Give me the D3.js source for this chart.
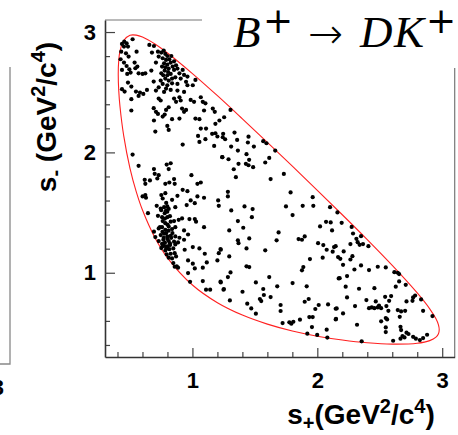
<!DOCTYPE html>
<html>
<head>
<meta charset="utf-8">
<script src="https://cdn.jsdelivr.net/npm/d3@7"></script>
<style>
html, body { margin: 0; padding: 0; background: #fff; }
svg { display: block; }
</style>
</head>
<body>
<svg id="chart" width="458" height="435"></svg>
<script>
// Kinematic boundary of the D -> K_S pi+ pi- Dalitz plot, s+ / s- in GeV^2/c^4
const boundarySPlus = [0.406, 0.41, 0.42, 0.45, 0.5, 0.55, 0.6, 0.7, 0.8, 1.0, 1.2, 1.4, 1.6, 1.8, 2.0, 2.2, 2.4, 2.6, 2.8, 2.9, 2.95, 2.97, 2.976,
                       2.97, 2.95, 2.9, 2.8, 2.6, 2.4, 2.2, 2.0, 1.8, 1.6, 1.4, 1.2, 1.0, 0.8, 0.7, 0.6, 0.55, 0.5, 0.45, 0.42, 0.41];
const boundarySMinus = [2.650, 2.763, 2.841, 2.930, 2.973, 2.974, 2.958, 2.900, 2.826, 2.655, 2.471, 2.279, 2.084, 1.886, 1.685, 1.482, 1.275, 1.061, 0.832, 0.700, 0.617, 0.567, 0.526,
                        0.493, 0.465, 0.436, 0.414, 0.407, 0.418, 0.441, 0.473, 0.516, 0.573, 0.648, 0.751, 0.898, 1.124, 1.291, 1.521, 1.674, 1.868, 2.137, 2.381, 2.515];

// Selected B+ -> D K+ candidates, each [s+, s-]
const events = [
  [0.436,2.901],[0.454,2.920],[0.473,2.906],[0.452,2.879],[0.484,2.879],[0.430,2.837],[0.468,2.823],[0.521,2.940],[0.553,2.837],[0.489,2.796],
  [0.425,2.774],[0.452,2.746],[0.473,2.718],[0.495,2.691],[0.505,2.663],[0.537,2.746],[0.543,2.699],[0.569,2.657],[0.559,2.713],[0.601,2.652],
  [0.623,2.657],[0.478,2.652],[0.436,2.685],[0.484,2.580],[0.436,2.525],[0.457,2.505],[0.511,2.547],[0.548,2.505],[0.580,2.497],[0.607,2.486],
  [0.569,2.469],[0.511,2.442],[0.511,2.348],[0.655,2.893],[0.692,2.884],[0.676,2.829],[0.724,2.837],[0.708,2.746],[0.671,2.680],[0.690,2.588],
  [0.708,2.514],[0.730,2.541],[0.730,2.447],[0.746,2.431],[0.690,2.367],[0.708,2.337],[0.724,2.320],[0.692,2.265],[0.762,2.298],[0.778,2.314],
  [0.789,2.353],[0.810,2.375],[0.799,2.220],[0.810,2.187],[0.703,2.173],[0.837,2.276],[0.751,2.829],[0.770,2.846],[0.783,2.818],[0.799,2.801],
  [0.815,2.774],[0.789,2.768],[0.762,2.782],[0.773,2.740],[0.799,2.729],[0.826,2.746],[0.842,2.713],[0.810,2.696],[0.783,2.707],[0.757,2.713],
  [0.778,2.680],[0.805,2.668],[0.826,2.652],[0.853,2.685],[0.869,2.724],[0.853,2.757],[0.880,2.696],[0.896,2.657],[0.799,2.641],[0.767,2.641],
  [0.783,2.613],[0.810,2.597],[0.837,2.613],[0.751,2.657],[0.746,2.597],[0.762,2.569],[0.799,2.558],[0.837,2.574],[0.863,2.624],[0.906,2.613],
  [0.880,2.569],[0.922,2.685],[0.933,2.644],[0.960,2.630],[0.949,2.586],[0.789,2.530],[0.773,2.502],[0.826,2.519],[0.730,2.796],[0.831,2.801],
  [0.853,2.447],[0.869,2.420],[0.896,2.458],[0.906,2.431],[0.933,2.502],[0.917,2.364],[0.933,2.337],[0.896,2.281],[0.960,2.558],[0.986,2.436],
  [1.013,2.420],[1.003,2.558],[1.024,2.602],[1.067,2.458],[1.083,2.420],[1.104,2.408],[1.093,2.348],[1.056,2.276],[1.109,2.198],[1.163,2.364],
  [1.179,2.337],[1.216,2.265],[1.254,2.292],[1.184,2.237],[1.184,2.159],[1.067,2.198],[1.024,2.281],[0.949,2.353],[0.880,2.514],[0.636,2.519],
  [1.305,2.353],[1.246,2.154],[1.262,2.109],[1.337,2.165],[1.358,2.104],[1.449,2.131],[1.444,2.082],[1.310,2.048],[1.364,2.015],[1.492,2.048],
  [1.567,2.093],[1.593,2.076],[1.663,2.015],[1.240,1.960],[1.289,1.943],[1.433,1.985],[1.454,1.938],[1.428,1.905],[1.449,1.893],[1.486,1.877],
  [1.331,1.860],[1.369,1.905],[1.615,1.954],[1.583,1.916],[1.732,1.821],
  [1.045,2.137],[1.104,2.110],[1.158,2.154],[1.200,2.132],[1.243,2.126],[1.056,2.087],[1.174,2.054],[1.238,1.960],[0.922,2.065],[0.521,1.982],
  [0.569,1.888],[0.794,1.899],[0.826,1.910],[0.810,1.861],[0.692,1.861],[0.698,1.822],[0.730,1.811],[0.719,1.783],[0.618,1.772],[0.660,1.767],
  [0.623,1.739],[0.783,1.739],[0.815,1.750],[0.853,1.778],[0.858,1.739],[0.992,1.811],[1.040,1.739],[1.067,1.750],[0.922,1.689],[0.960,1.678],
  [0.601,1.634],[0.623,1.645],[0.628,1.623],[0.751,1.645],[0.783,1.661],[0.762,1.617],[0.837,1.606],[0.880,1.639],[1.040,1.634],[1.093,1.623],
  [0.986,1.601],[1.206,1.601],[1.211,1.556],[0.644,1.495],[0.714,1.556],[0.746,1.534],[0.773,1.545],[0.799,1.551],[0.789,1.518],[0.778,1.495],
  [0.799,1.507],[0.863,1.545],[0.954,1.562],[1.019,1.578],[0.724,1.473],[0.757,1.462],[0.799,1.462],[0.762,1.429],[0.783,1.412],[0.826,1.424],
  [0.853,1.429],[0.890,1.440],[0.917,1.451],[0.976,1.446],[1.019,1.446],[1.029,1.424],[1.093,1.379],[0.692,1.341],[0.730,1.368],[0.757,1.379],
  [0.783,1.357],[0.810,1.385],[0.837,1.363],[0.863,1.379],[0.933,1.352],[0.965,1.318],[0.703,1.296],[0.746,1.313],[0.773,1.324],[0.799,1.302],
  [0.826,1.307],[0.863,1.302],[0.896,1.291],[0.933,1.274],[0.767,1.274],[0.810,1.263],[0.730,1.263],[0.853,1.258],[0.885,1.252],[0.757,1.241],
  [0.773,1.224],[0.799,1.219],[0.821,1.230],[0.863,1.235],[0.751,1.205],[0.783,1.185],[0.815,1.196],[0.847,1.202],[0.794,1.152],[0.826,1.158],
  [0.858,1.163],[0.810,1.125],[0.837,1.119],[0.869,1.136],[0.847,1.080],[0.874,1.053],[0.858,1.050],[0.885,1.042],[0.938,1.191],[1.003,1.213],
  [1.056,1.202],[1.099,1.158],[1.227,1.191],[1.211,1.163],[0.965,1.102],[1.003,1.075],[1.019,1.036],[1.115,1.086],[1.200,1.102],[1.083,1.042],
  [0.965,0.997],[0.981,0.925],[1.083,0.931],[1.227,0.920],[1.109,0.859],[1.142,0.859],[1.249,0.859],
  [0.760,1.340],[0.790,1.330],[0.810,1.350],[0.770,1.290],[0.800,1.280],[0.830,1.290],[0.780,1.250],[0.820,1.245],[0.740,1.380],[0.800,1.400],
  [0.780,1.450],[0.820,1.470],[0.750,1.520],[0.810,1.530],[0.790,1.580],[0.840,1.330],[0.760,1.220],[0.790,1.200],
  [1.348,1.794],[1.626,1.778],[1.284,1.672],[1.284,1.634],[1.786,1.667],[1.963,1.628],[1.749,1.551],[1.883,1.556],[1.968,1.556],[2.102,1.545],
  [2.161,1.501],[1.802,1.479],[1.417,1.551],[1.482,1.529],[1.476,1.462],[1.311,1.518],[1.364,1.429],[1.407,1.374],[1.295,1.352],[2.070,1.423],
  [2.107,1.418],[2.022,1.385],[2.118,1.352],[1.690,1.335],[1.674,1.269],[1.850,1.280],[1.877,1.274],[1.899,1.302],[2.006,1.246],[2.048,1.230],
  [2.075,1.191],[2.134,1.213],[2.123,1.175],[2.166,1.130],[2.043,1.125],[1.941,1.114],[1.364,1.269],[1.369,1.246],[1.455,1.285],[1.433,1.202],
  [1.225,1.197],[1.583,1.186],[1.295,1.136],[1.888,1.047],[1.877,1.020],[1.433,1.053],[1.455,1.047],[1.305,1.003],[1.284,0.964],[1.225,0.926],
  [1.508,0.920],[1.615,0.964],[1.802,0.914],[2.171,0.953],
  [1.252,0.865],[1.915,0.887],[1.401,0.842],[1.567,0.865],[1.572,0.815],[1.626,0.798],[1.679,0.887],[1.540,0.782],[1.551,0.765],[1.300,0.770],
  [1.439,0.743],[1.471,0.704],[1.508,0.660],[1.706,0.732],[1.706,0.682],[1.899,0.759],[1.931,0.782],[2.011,0.732],[1.984,0.699],[2.086,0.737],
  [2.155,0.704],[1.722,0.582],[1.776,0.588],[1.792,0.577],[1.808,0.593],[1.861,0.610],[1.936,0.632],[1.963,0.632],[2.150,0.616],[1.957,0.549],
  [2.075,0.527],[1.920,0.494],[1.999,0.483],[2.080,0.461],
  [2.195,1.415],[2.275,1.381],[2.286,1.326],[2.313,1.282],[2.323,1.254],[2.350,1.304],[2.339,1.232],[2.366,1.238],[2.409,1.221],[2.265,1.238],
  [2.147,1.221],[2.211,1.177],[2.184,1.116],[2.206,1.066],[2.281,1.138],[2.265,1.110],[2.350,1.061],[2.297,1.027],[2.414,1.022],[2.484,1.050],
  [2.548,1.044],[2.617,1.005],[2.644,1.000],[2.655,0.989],[2.179,0.955],[2.238,0.972],[2.655,0.928],[2.708,0.900],[2.628,0.884],[2.227,0.884],
  [2.334,0.867],[2.457,0.872],
  [2.238,0.795],[2.393,0.773],[2.468,0.762],[2.543,0.800],[2.591,0.806],[2.575,0.767],[2.767,0.795],[2.783,0.811],[2.714,0.762],[2.762,0.767],
  [2.831,0.778],[2.147,0.701],[2.206,0.662],[2.302,0.723],[2.414,0.706],[2.436,0.712],[2.457,0.706],[2.484,0.712],[2.494,0.728],[2.511,0.706],
  [2.553,0.723],[2.569,0.684],[2.644,0.690],[2.671,0.679],[2.660,0.634],[2.703,0.684],[2.847,0.684],[2.922,0.640],[2.147,0.612],[2.548,0.623],
  [2.559,0.612],[2.511,0.596],[2.318,0.568],[2.548,0.546],[2.548,0.507],[2.666,0.551],[2.671,0.524],[2.714,0.502],[2.730,0.491],[2.682,0.474],
  [2.666,0.452],[2.698,0.463],[2.607,0.435],[2.767,0.468],[2.789,0.452],[2.821,0.441],[2.847,0.457],[2.879,0.485],[2.355,0.430]
];

// Axis ticks and labels
const xMajorTicks = [1, 2, 3];
const xMinorTicks = [0.4, 0.6, 0.8, 1.2, 1.4, 1.6, 1.8, 2.2, 2.4, 2.6, 2.8];
const yMajorTicks = [1, 2, 3];
const yMinorTicks = [0.4, 0.6, 0.8, 1.2, 1.4, 1.6, 1.8, 2.2, 2.4, 2.6, 2.8];
const axisDomain = [0.3, 3.1];

const svg = d3.select('#chart');
const sansBold = '"Liberation Sans", Arial, Helvetica, sans-serif';

const x = d3.scaleLinear().domain(axisDomain).range([105, 454.7]);
const y = d3.scaleLinear().domain(axisDomain).range([357, 20]);

// Frame segments left visible around the title box
svg.append('path')
  .attr('d', `M${x(axisDomain[0])},${y(axisDomain[1])}H202`)
  .attr('stroke', '#777').attr('stroke-width', 1.2).attr('fill', 'none');
svg.append('path')
  .attr('d', `M${x(axisDomain[1])},68V${y(axisDomain[0])}`)
  .attr('stroke', '#777').attr('stroke-width', 1.2).attr('fill', 'none');

// Edge of the neighbouring panel, with the last digit of its axis
svg.append('path')
  .attr('d', 'M10,67V364H0')
  .attr('stroke', '#888').attr('stroke-width', 1.3).attr('fill', 'none');
svg.append('text')
  .attr('x', 4).attr('y', 395).attr('text-anchor', 'end')
  .style('font-family', sansBold).style('font-weight', 'bold').style('font-size', '22px')
  .text('3');

function styleAxis(g, labelled) {
  g.selectAll('.tick line').attr('stroke', '#444').attr('stroke-width', 1.2);
  g.select('.domain').attr('stroke', '#333').attr('stroke-width', 1.6);
  if (labelled) {
    g.selectAll('.tick text')
      .attr('fill', '#000')
      .style('font-family', sansBold).style('font-weight', 'bold').style('font-size', '22px');
  }
}

// X axis
const gxMinor = svg.append('g').attr('transform', `translate(0,${y(axisDomain[0])})`)
  .call(d3.axisBottom(x).tickValues(xMinorTicks).tickSize(-5).tickSizeOuter(0).tickFormat(''));
gxMinor.select('.domain').remove();
styleAxis(gxMinor, false);
const gx = svg.append('g').attr('transform', `translate(0,${y(axisDomain[0])})`)
  .call(d3.axisBottom(x).tickValues(xMajorTicks).tickSize(-9).tickSizeOuter(0).tickPadding(15).tickFormat(d3.format('d')));
styleAxis(gx, true);

// Y axis
const gyMinor = svg.append('g').attr('transform', `translate(${x(axisDomain[0])},0)`)
  .call(d3.axisLeft(y).tickValues(yMinorTicks).tickSize(-5).tickSizeOuter(0).tickFormat(''));
gyMinor.select('.domain').remove();
styleAxis(gyMinor, false);
const gy = svg.append('g').attr('transform', `translate(${x(axisDomain[0])},0)`)
  .call(d3.axisLeft(y).tickValues(yMajorTicks).tickSize(-10).tickSizeOuter(0).tickPadding(9).tickFormat(d3.format('d')));
styleAxis(gy, true);

// Dalitz boundary
const boundary = boundarySPlus.map((v, i) => [v, boundarySMinus[i]]);
svg.append('path')
  .datum(boundary)
  .attr('d', d3.line().x(d => x(d[0])).y(d => y(d[1])).curve(d3.curveCatmullRomClosed.alpha(0.5)))
  .attr('fill', 'none')
  .attr('stroke', '#ff2020')
  .attr('stroke-width', 1.1);

// Candidates
svg.append('g').selectAll('circle')
  .data(events)
  .join('circle')
  .attr('cx', d => x(d[0]))
  .attr('cy', d => y(d[1]))
  .attr('r', 2.1)
  .attr('fill', '#000');

// Axis titles
const yTitle = svg.append('text')
  .attr('transform', 'translate(56,117) rotate(-90)')
  .attr('text-anchor', 'middle')
  .style('font-family', sansBold).style('font-weight', 'bold').style('font-size', '28px');
yTitle.append('tspan').text('s');
yTitle.append('tspan').attr('dy', 6).style('font-size', '20px').text('-');
yTitle.append('tspan').attr('dy', -6).text(' (GeV');
yTitle.append('tspan').attr('dy', -11).style('font-size', '20px').text('2');
yTitle.append('tspan').attr('dy', 11).text('/c');
yTitle.append('tspan').attr('dy', -11).style('font-size', '20px').text('4');
yTitle.append('tspan').attr('dy', 11).text(')');

const xTitle = svg.append('text')
  .attr('x', 361).attr('y', 424)
  .attr('text-anchor', 'middle')
  .style('font-family', sansBold).style('font-weight', 'bold').style('font-size', '28px');
xTitle.append('tspan').text('s');
xTitle.append('tspan').attr('dy', 6).style('font-size', '20px').text('+');
xTitle.append('tspan').attr('dy', -6).text('(GeV');
xTitle.append('tspan').attr('dy', -11).style('font-size', '20px').text('2');
xTitle.append('tspan').attr('dy', 11).text('/c');
xTitle.append('tspan').attr('dy', -11).style('font-size', '20px').text('4');
xTitle.append('tspan').attr('dy', 11).text(')');

// Decay title
const title = svg.append('text')
  .style('font-family', '"Liberation Serif", "DejaVu Serif", serif')
  .style('font-size', '45px')
  .attr('fill', '#000');
const mathSans = '"DejaVu Sans", sans-serif';
title.append('tspan').attr('x', 233).attr('y', 47).style('font-style', 'italic').text('B');
title.append('tspan').attr('x', 263).attr('y', 33).style('font-family', mathSans).style('font-size', '36px').text('+');
title.append('tspan').attr('x', 308).attr('y', 48).style('font-family', mathSans).style('font-size', '42px').style('font-weight', '300').text('\u2192');
title.append('tspan').attr('x', 360).attr('y', 47).style('font-style', 'italic').text('D');
title.append('tspan').attr('x', 394).attr('y', 47).style('font-style', 'italic').text('K');
title.append('tspan').attr('x', 426).attr('y', 33).style('font-family', mathSans).style('font-size', '36px').text('+');
</script>
</body>
</html>
